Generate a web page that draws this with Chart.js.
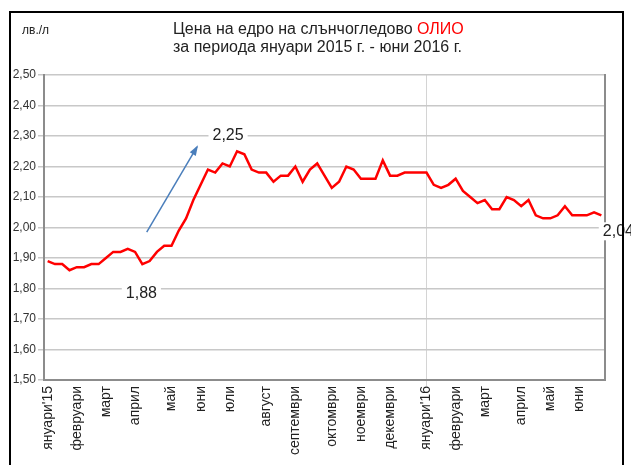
<!DOCTYPE html>
<html>
<head>
<meta charset="utf-8">
<script src="https://cdn.jsdelivr.net/npm/chart.js@4/dist/chart.umd.min.js"></script>
<style>
  body { margin: 0; background: #fff; font-family: "Liberation Sans", Arial, sans-serif; }
  #wrap { position: relative; width: 631px; height: 465px; }
  #frame { position: absolute; left: 9px; top: 11px; width: 611px; height: 470px; border: 2px solid #000; pointer-events: none; }
  #unit { position: absolute; left: 22px; top: 23px; font-size: 12px; color: #222; }
  #title { position: absolute; left: 173px; top: 20px; font-size: 16px; line-height: 18px; color: #222; }
  #title span { color: #ff0000; }
</style>
</head>
<body>
<div id="wrap">
  <canvas id="priceChart" width="631" height="465"></canvas>
  <div id="frame"></div>
  <div id="unit">лв./л</div>
  <div id="title">Цена на едро на слънчогледово <span>ОЛИО</span><br>за периода януари 2015 г. - юни 2016 г.</div>
</div>
<script>
// weekly prices, January 2015 - June 2016
const prices = [1.89, 1.88, 1.88, 1.86, 1.87, 1.87, 1.88, 1.88, 1.90, 1.92,
    1.92, 1.93, 1.92, 1.88, 1.89, 1.92, 1.94, 1.94, 1.99, 2.03,
    2.09, 2.14, 2.19, 2.18, 2.21, 2.20, 2.25, 2.24, 2.19, 2.18,
    2.18, 2.15, 2.17, 2.17, 2.20, 2.15, 2.19, 2.21, 2.17, 2.13,
    2.15, 2.20, 2.19, 2.16, 2.16, 2.16, 2.22, 2.17, 2.17, 2.18,
    2.18, 2.18, 2.18, 2.14, 2.13, 2.14, 2.16, 2.12, 2.10, 2.08,
    2.09, 2.06, 2.06, 2.10, 2.09, 2.07, 2.09, 2.04, 2.03, 2.03,
    2.04, 2.07, 2.04, 2.04, 2.04, 2.05, 2.04];

// month names and the week where each label sits
const monthNames = ["януари'15", 'февруари', 'март', 'април', 'май', 'юни', 'юли', 'август', 'септември',
    'октомври', 'ноември', 'декември', "януари'16", 'февруари', 'март', 'април', 'май', 'юни'];
const monthWeeks = [0, 4, 8, 12, 17, 21, 25, 30, 34, 39, 43, 47, 52, 56, 60, 65, 69, 73];
const yearStartWeek = 52;

// the arrow (week index, price) and the marked values
const arrowFrom = [13.6, 1.985];
const arrowTo = [20.5, 2.264];
const maxWeek = 26, minWeek = 13, lastWeek = prices.length - 1;

const labels = prices.map((v, i) => {
    const k = monthWeeks.indexOf(i);
    return k >= 0 ? monthNames[k] : '';
});

const fmt = v => v.toFixed(2).replace('.', ',');

const notesPlugin = {
    id: 'notes',
    afterDatasetsDraw(chart) {
        const { ctx, scales: { x, y } } = chart;
        ctx.save();
        // blue arrow
        const x1 = x.getPixelForValue(arrowFrom[0]), y1 = y.getPixelForValue(arrowFrom[1]);
        const x2 = x.getPixelForValue(arrowTo[0]), y2 = y.getPixelForValue(arrowTo[1]);
        ctx.strokeStyle = '#4a7ebb';
        ctx.fillStyle = '#4a7ebb';
        ctx.lineWidth = 1.5;
        ctx.beginPath();
        ctx.moveTo(x1, y1);
        ctx.lineTo(x2, y2);
        ctx.stroke();
        const a = Math.atan2(y2 - y1, x2 - x1);
        ctx.beginPath();
        ctx.moveTo(x2 + 2 * Math.cos(a), y2 + 2 * Math.sin(a));
        ctx.lineTo(x2 - 9 * Math.cos(a - 0.4), y2 - 9 * Math.sin(a - 0.4));
        ctx.lineTo(x2 - 9 * Math.cos(a + 0.4), y2 - 9 * Math.sin(a + 0.4));
        ctx.closePath();
        ctx.fill();

        // value labels with white background
        ctx.font = '16px "Liberation Sans", Arial, sans-serif';
        ctx.textAlign = 'center';
        ctx.textBaseline = 'middle';
        const note = (i, dx, dy) => {
            const t = fmt(prices[i]);
            const px = x.getPixelForValue(i) + dx, py = y.getPixelForValue(prices[i]) + dy;
            const w = ctx.measureText(t).width + 8;
            ctx.fillStyle = '#fff';
            ctx.fillRect(px - w / 2, py - 9, w, 18);
            ctx.fillStyle = '#222';
            ctx.fillText(t, px, py);
        };
        note(maxWeek, -9, -16);
        note(minWeek, -1, 29);
        note(lastWeek, 17, 16);
        ctx.restore();
    }
};

new Chart('priceChart', {
    type: 'line',
    data: {
        labels: labels,
        datasets: [{
            data: prices,
            borderColor: '#ff0000',
            borderWidth: 2.5,
            pointRadius: 0,
            tension: 0,
            fill: false
        }]
    },
    options: {
        responsive: false,
        animation: false,
        layout: { padding: { left: 8, right: 26, top: 75, bottom: 0 } },
        plugins: {
            legend: { display: false },
            tooltip: { enabled: false }
        },
        scales: {
            x: {
                offset: true,
                afterFit: s => { s.height = 85; },
                grid: {
                    color: c => c.index === yearStartWeek ? '#d4d4d4' : 'rgba(0,0,0,0)',
                    lineWidth: 1,
                    tickLength: 6
                },
                border: { color: '#8c8c8c', width: 2 },
                ticks: {
                    autoSkip: false,
                    minRotation: 90,
                    maxRotation: 90,
                    padding: 0,
                    color: '#222',
                    font: { family: '"Liberation Sans", Arial, sans-serif', size: 14 },
                    callback: (v, i) => labels[i]
                }
            },
            y: {
                min: 1.5,
                max: 2.5,
                afterFit: s => { s.width = 36; },
                grid: { color: '#c8c8c8', lineWidth: 1.5, tickLength: 6 },
                border: { color: '#8c8c8c', width: 2 },
                ticks: {
                    stepSize: 0.1,
                    padding: 2,
                    color: '#333',
                    font: { family: '"Liberation Sans", Arial, sans-serif', size: 12 },
                    callback: v => fmt(v)
                }
            },
            yRight: {
                position: 'right',
                min: 1.5,
                max: 2.5,
                afterFit: s => { s.width = 0; },
                grid: { drawOnChartArea: false, tickLength: 0, color: 'rgba(0,0,0,0)' },
                border: { color: '#8c8c8c', width: 2 },
                ticks: { display: false }
            }
        }
    },
    plugins: [notesPlugin]
});
</script>
</body>
</html>
